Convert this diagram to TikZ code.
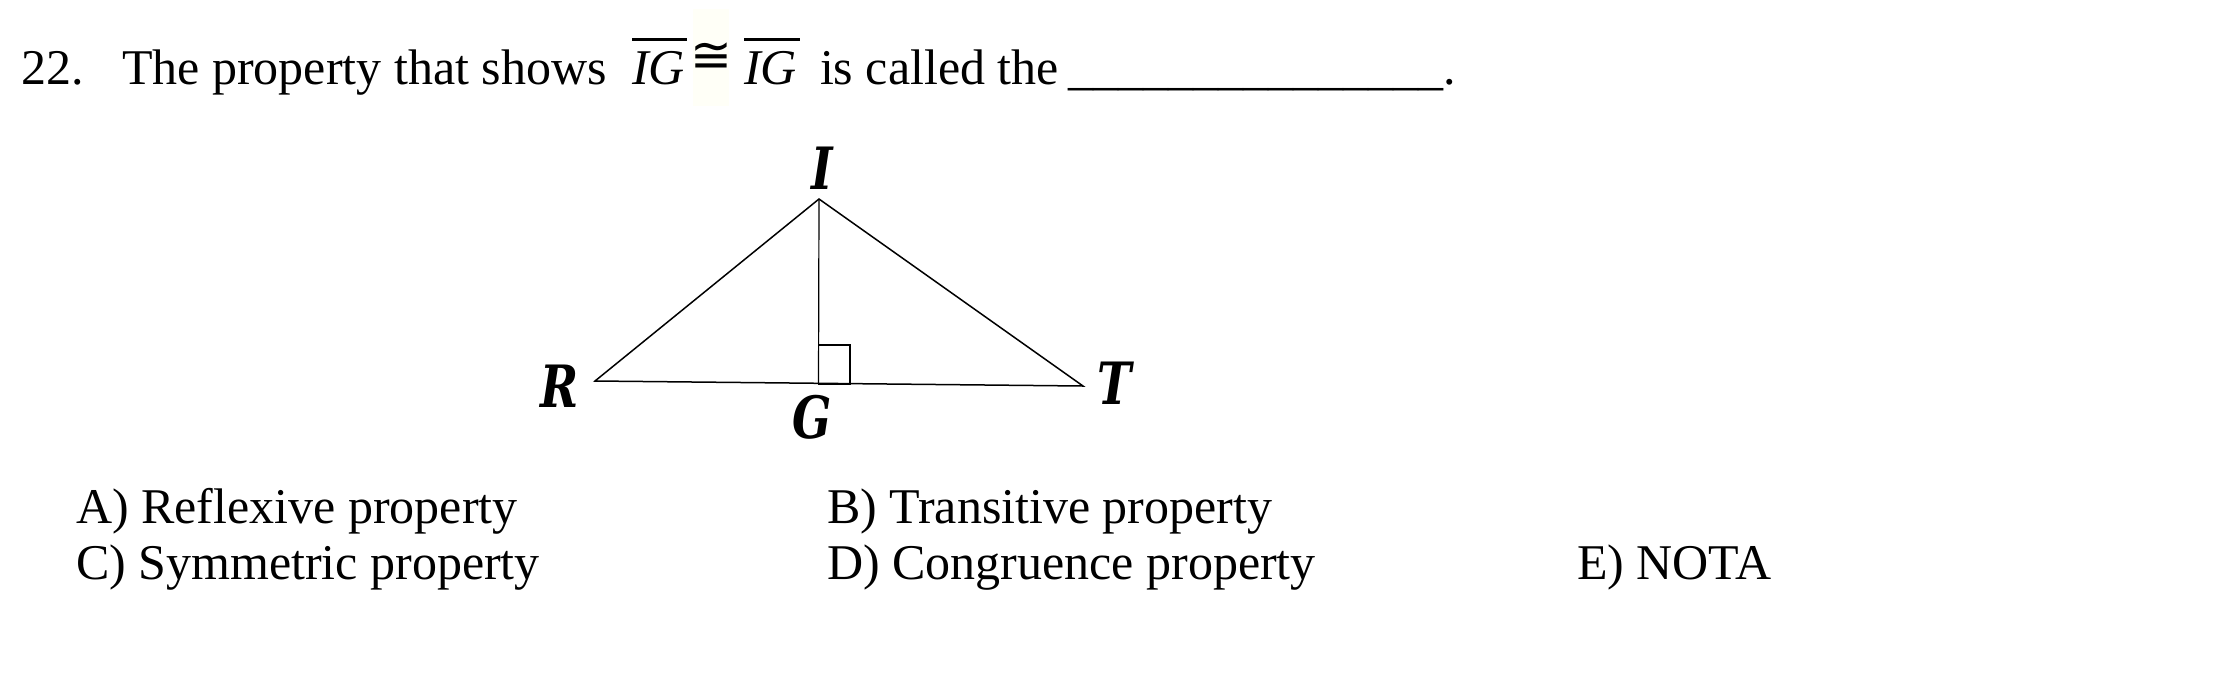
\documentclass[tikz,border=0pt]{standalone}
\usepackage{fontspec}
\setmainfont{Liberation Serif}
\newfontfamily\lblfont{DejaVu Serif}
\newfontfamily\symfont{DejaVu Sans}
\tikzset{
  body/.style={anchor=base west,inner sep=0pt,outer sep=0pt,font=\fontsize{50}{56}\selectfont},
  vlabel/.style={anchor=center,inner sep=0pt,outer sep=0pt,font=\fontsize{54}{60}\selectfont\lblfont\bfseries\itshape},
  edge/.style={line width=1.5pt,black,line join=miter},
  thin edge/.style={line width=1.2pt,black},
  bar/.style={line width=2.2pt,black}
}
\newcommand{\vlab}[1]{\scalebox{.85}[1.08]{#1}}
\begin{document}
\begin{tikzpicture}[x=1pt,y=-1pt]
\useasboundingbox (0,0) rectangle (2232,673);
\fill[white] (0,0) rectangle (2232,673);
\fill[fill=white!97!yellow] (693,9) rectangle (729,106);
% question line
\node[body] (num) at (21,84) {22.};
\node[body] (q1) at (122,84) {The property that shows};
\node[body] (ig1) at (632,84) {\itshape IG};
\draw[bar] (632,39.5) -- (687,39.5);
\node[anchor=base,inner sep=0pt,font=\fontsize{50}{56}\selectfont\symfont] (cong) at (711,72) {≅};
\node[body] (ig2) at (744,84) {\itshape IG};
\draw[bar] (744,39.5) -- (800,39.5);
\node[body] (q2) at (820,84) {is called the};
\node[body] (blank) at (1068,84) {\_\_\_\_\_\_\_\_\_\_\_\_\_\_\_.};
% triangle
\coordinate (I) at (819,199);
\coordinate (R) at (595,381);
\coordinate (T) at (1083,386);
\coordinate (G) at (818.5,383.5);
\draw[edge] (I) -- (R) -- (T) -- cycle;
\draw[thin edge] (I) -- (G);
\draw[thin edge] (818.5,345) rectangle (850,384);
\node[vlabel] (lI) at (822,168) {\vlab{I}};
\node[vlabel] (lR) at (560,386) {\vlab{R}};
\node[vlabel] (lG) at (812,417) {\vlab{G}};
\node[vlabel] (lT) at (1115,383) {\vlab{T}};
% options
\node[body] (a) at (76,523) {A) Reflexive property};
\node[body] (b) at (827,523) {B) Transitive property};
\node[body] (c) at (76,579) {C) Symmetric property};
\node[body] (d) at (827,579) {D) Congruence property};
\node[body] (e) at (1577,579) {E) NOTA};
\end{tikzpicture}
\end{document}
